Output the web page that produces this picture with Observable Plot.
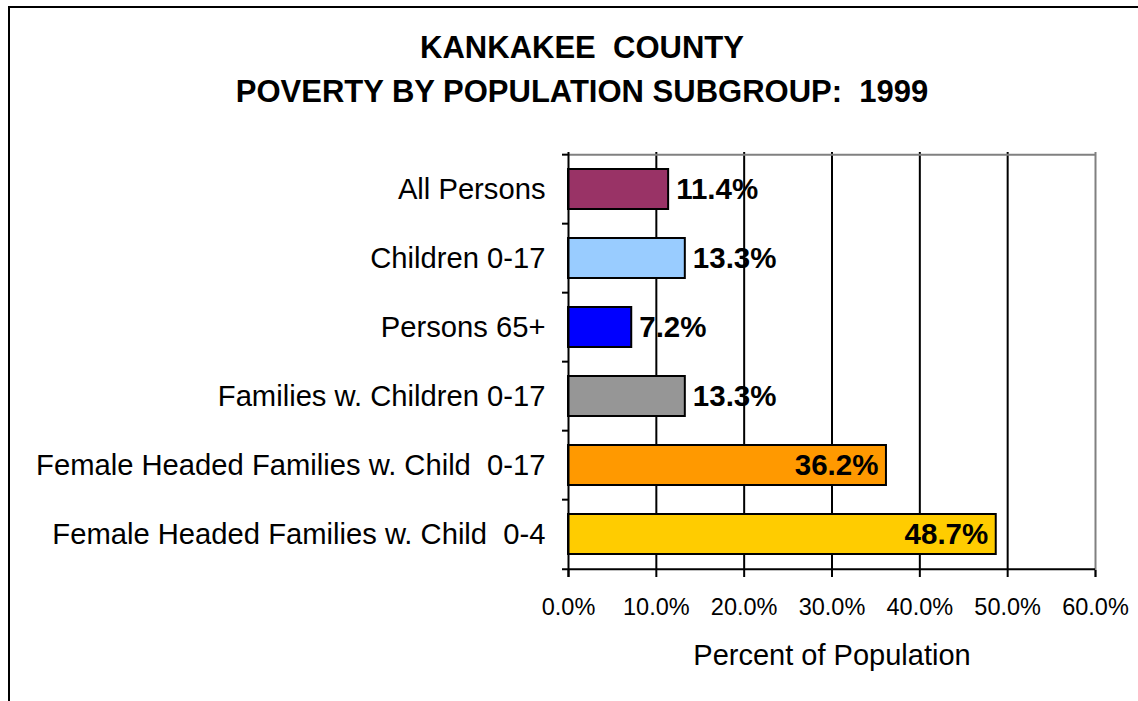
<!DOCTYPE html>
<html><head><meta charset="utf-8">
<script src="https://cdn.jsdelivr.net/npm/d3@7"></script>
<script src="https://cdn.jsdelivr.net/npm/@observablehq/plot@0.6"></script>
<style>
body{margin:0;background:#fff;font-family:"Liberation Sans",Arial,sans-serif;}
#wrap{position:relative;width:1138px;height:701px;overflow:hidden;background:#fff;}
#border{position:absolute;left:8px;top:6px;width:1300px;height:900px;border-left:2.5px solid #000;border-top:2.5px solid #000;}
#title{position:absolute;left:0;top:26px;width:1164px;text-align:center;font-weight:bold;font-size:31px;line-height:44px;white-space:pre;color:#000;}
#chart{position:absolute;left:0;top:120px;}
</style></head>
<body>
<div id="wrap">
  <div id="border"></div>
  <div id="title">KANKAKEE  COUNTY
POVERTY BY POPULATION SUBGROUP:  1999</div>
  <div id="chart"></div>
</div>
<script>
const categories = [
  "All Persons",
  "Children 0-17",
  "Persons 65+",
  "Families w. Children 0-17",
  "Female Headed Families w. Child  0-17",
  "Female Headed Families w. Child  0-4"
];
const values = [11.4, 13.3, 7.2, 13.3, 36.2, 48.7];
const xTicks = [0, 10, 20, 30, 40, 50, 60];
const gridTicks = [10, 20, 30, 40, 50];
const barColors = ["#993366", "#99CCFF", "#0000FF", "#969696", "#FF9900", "#FFCC00"];
const axisTitle = "Percent of Population";

const data = categories.map((c, i) => ({cat: c, value: values[i]}));

const W = 1138, H = 581, mTop = 32, mBottom = 131, mLeft = 568, mRight = 43;
const halfStep = (H - mTop - mBottom) / categories.length / 2;
const pct = d => d.toFixed(1) + "%";

const chart = Plot.plot({
  width: W, height: H,
  marginTop: mTop, marginBottom: mBottom, marginLeft: mLeft, marginRight: mRight,
  style: {fontFamily: "'Liberation Sans', Arial, sans-serif", background: "transparent", color: "#000", overflow: "visible"},
  x: {domain: [0, 60]},
  y: {domain: categories, paddingInner: 0.426, paddingOuter: 0.213},
  color: {domain: categories, range: barColors},
  marks: [
    Plot.ruleX(gridTicks, {stroke: "#000", strokeWidth: 2}),
    Plot.ruleY([categories[0]], {y: d => d, dy: -halfStep, stroke: "#808080", strokeWidth: 2}),
    Plot.ruleX([60], {stroke: "#808080", strokeWidth: 2, insetBottom: -7}),
    Plot.barX(data, {y: "cat", x: "value", fill: "cat", stroke: "#000", strokeWidth: 2}),
    Plot.axisX({ticks: xTicks, tickFormat: pct, tickSize: 7, tickPadding: 21, fontSize: 23.5, label: null, strokeWidth: 2}),
    Plot.axisY({tickSize: 0, tickPadding: 23, fontSize: 29.2, label: null, tickFormat: d => d.replace(/  /g, " \u00a0")}),
    Plot.ruleX([0], {stroke: "#000", strokeWidth: 2, insetBottom: -7}),
    Plot.ruleY([categories[categories.length - 1]], {y: d => d, dy: halfStep, stroke: "#000", strokeWidth: 2, insetLeft: -6}),
    Plot.ruleY(categories, {y: d => d, dy: -halfStep, x1: 0, x2: 0, insetLeft: -6, stroke: "#000", strokeWidth: 2}),
    Plot.text(data.filter(d => d.value < 30), {x: "value", y: "cat", text: d => pct(d.value), textAnchor: "start", dx: 7.5, fontWeight: "bold", fontSize: 29.5, fill: "#000"}),
    Plot.text(data.filter(d => d.value >= 30), {x: "value", y: "cat", text: d => pct(d.value), textAnchor: "end", dx: -8, fontWeight: "bold", fontSize: 29.5, fill: "#000"}),
    Plot.text([axisTitle], {text: d => d, frameAnchor: "bottom", dy: 94, fontSize: 29, fill: "#000"})
  ]
});
document.getElementById("chart").appendChild(chart);
</script>
</body></html>
